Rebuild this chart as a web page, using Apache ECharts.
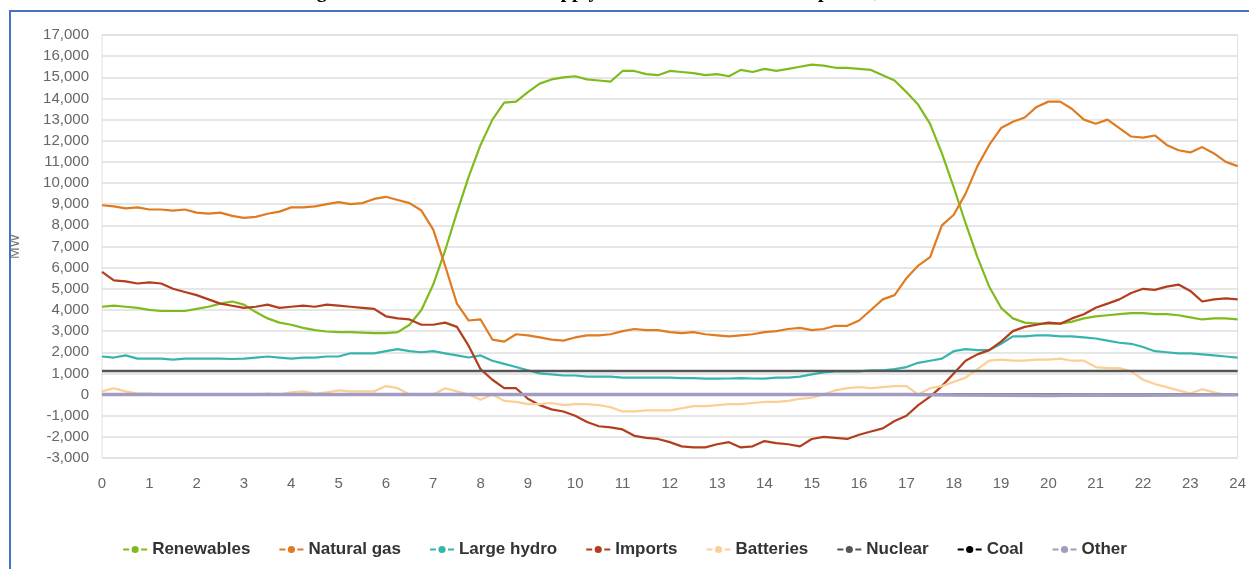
<!DOCTYPE html>
<html>
<head>
<meta charset="utf-8">
<script src="https://cdn.jsdelivr.net/npm/echarts@6/dist/echarts.min.js"></script>
<style>
  html, body { margin: 0; padding: 0; background: #fff; overflow: hidden; }
  #chart { position: absolute; left: 0; top: 0; width: 1249px; height: 569px; }
  /* blue frame around the chart, as in the source document */
  #frame { position: absolute; left: 9px; top: 10px; width: 1300px; height: 600px;
           border: 2px solid #4472c4; pointer-events: none; }
</style>
</head>
<body>
<div id="chart"></div>
<div id="frame"></div>
<script>
// hours of the day, 15 minute steps
const HOURS = [
  0, 0.25, 0.5, 0.75, 1, 1.25, 1.5, 1.75, 2, 2.25, 2.5, 2.75, 3, 3.25, 3.5, 3.75,
  4, 4.25, 4.5, 4.75, 5, 5.25, 5.5, 5.75, 6, 6.25, 6.5, 6.75, 7, 7.25, 7.5, 7.75,
  8, 8.25, 8.5, 8.75, 9, 9.25, 9.5, 9.75, 10, 10.25, 10.5, 10.75, 11, 11.25, 11.5, 11.75,
  12, 12.25, 12.5, 12.75, 13, 13.25, 13.5, 13.75, 14, 14.25, 14.5, 14.75, 15, 15.25, 15.5, 15.75,
  16, 16.25, 16.5, 16.75, 17, 17.25, 17.5, 17.75, 18, 18.25, 18.5, 18.75, 19, 19.25, 19.5, 19.75,
  20, 20.25, 20.5, 20.75, 21, 21.25, 21.5, 21.75, 22, 22.25, 22.5, 22.75, 23, 23.25, 23.5, 23.75, 24
]
// hourly points for the flat series
const HOURS_FLAT = [0, 1, 2, 3, 4, 5, 6, 7, 8, 9, 10, 11, 12, 13, 14, 15, 16, 17, 18, 19, 20, 21, 22, 23, 24]

const renewables = [
  4150, 4200, 4150, 4100, 4000, 3950, 3950, 3950, 4050, 4150, 4300, 4400, 4250, 3900, 3600, 3400,
  3300, 3150, 3050, 2980, 2950, 2950, 2930, 2900, 2900, 2950, 3300, 4000, 5200, 6800, 8600, 10300,
  11800, 13000, 13800, 13850, 14300, 14700, 14900, 15000, 15050, 14900, 14850, 14800, 15300, 15300, 15150, 15100,
  15300, 15250, 15200, 15100, 15150, 15050, 15350, 15250, 15400, 15300, 15400, 15500, 15600, 15550, 15450, 15450,
  15400, 15350, 15100, 14850, 14300, 13700, 12800, 11400, 9800, 8100, 6500, 5100, 4100, 3600, 3400, 3350,
  3350, 3350, 3450, 3600, 3700, 3750, 3800, 3850, 3850, 3800, 3800, 3750, 3650, 3550, 3600, 3600, 3550
]
const naturalGas = [
  8950, 8900, 8800, 8850, 8750, 8750, 8700, 8750, 8600, 8550, 8600, 8450, 8350, 8400, 8550, 8650,
  8850, 8850, 8900, 9000, 9100, 9000, 9050, 9250, 9350, 9200, 9050, 8700, 7800, 6100, 4300, 3500,
  3550, 2600, 2500, 2850, 2800, 2700, 2600, 2550, 2700, 2800, 2800, 2850, 3000, 3100, 3050, 3050,
  2950, 2900, 2950, 2850, 2800, 2750, 2800, 2850, 2950, 3000, 3100, 3150, 3050, 3100, 3250, 3250,
  3500, 4000, 4500, 4700, 5500, 6100, 6500, 8000, 8500, 9500, 10800, 11800, 12600, 12900, 13100, 13600,
  13850, 13850, 13500, 13000, 12800, 13000, 12600, 12200, 12150, 12250, 11800, 11550, 11450, 11700, 11400, 11000, 10800
]
const largeHydro = [
  1800, 1750, 1850, 1700, 1700, 1700, 1650, 1700, 1700, 1700, 1700, 1680, 1700, 1750, 1800, 1750,
  1700, 1750, 1750, 1800, 1800, 1950, 1950, 1950, 2050, 2150, 2050, 2000, 2050, 1950, 1850, 1750,
  1850, 1600, 1450, 1300, 1150, 1000, 950, 900, 900, 850, 850, 850, 800, 800, 800, 800,
  800, 780, 780, 750, 750, 760, 780, 760, 750, 800, 800, 850, 950, 1050, 1100, 1100,
  1100, 1150, 1150, 1200, 1300, 1500, 1600, 1700, 2050, 2150, 2100, 2100, 2400, 2750, 2750, 2800,
  2800, 2750, 2750, 2700, 2650, 2550, 2450, 2400, 2250, 2050, 2000, 1950, 1950, 1900, 1850, 1800, 1750
]
const imports = [
  5800, 5400, 5350, 5250, 5300, 5250, 5000, 4850, 4700, 4500, 4300, 4200, 4100, 4150, 4250, 4100,
  4150, 4200, 4150, 4250, 4200, 4150, 4100, 4050, 3700, 3600, 3550, 3300, 3300, 3400, 3200, 2300,
  1200, 700, 300, 300, -200, -500, -700, -800, -1000, -1300, -1500, -1550, -1650, -1950, -2050, -2100,
  -2250, -2450, -2500, -2500, -2350, -2250, -2500, -2450, -2200, -2300, -2350, -2450, -2100, -2000, -2050, -2100,
  -1900, -1750, -1600, -1250, -1000, -500, -100, 400, 1000, 1600, 1900, 2100, 2500, 3000, 3200, 3300,
  3400, 3350, 3600, 3800, 4100, 4300, 4500, 4800, 5000, 4950, 5100, 5200, 4900, 4400, 4500, 4550, 4500
]
const batteries = [
  150, 300, 150, 50, 50, 0, 0, 0, 0, 0, 0, 0, 0, 0, 50, 0,
  100, 150, 50, 100, 200, 150, 150, 150, 400, 300, 0, 0, 0, 300, 150, 0,
  -250, 0, -300, -350, -450, -450, -400, -500, -450, -450, -500, -600, -800, -800, -750, -750,
  -750, -650, -550, -550, -500, -450, -450, -400, -350, -350, -300, -200, -150, 0, 200, 300,
  350, 300, 350, 400, 400, 0, 300, 400, 600, 800, 1200, 1600, 1650, 1600, 1600, 1650,
  1650, 1700, 1600, 1600, 1300, 1250, 1250, 1100, 700, 500, 350, 200, 50, 250, 100, 0, 0
]
const nuclear = [1110, 1110, 1110, 1110, 1110, 1110, 1110, 1110, 1110, 1110, 1110, 1110, 1110,
  1110, 1110, 1110, 1110, 1110, 1110, 1110, 1110, 1110, 1110, 1110, 1110]
const coal = [0, 0, 0, 0, 0, 0, 0, 0, 0, 0, 0, 0, 0, 0, 0, 0, 0, 0, 0, 0, 0, 0, 0, 0, 0]
const other = [0, 0, 0, 0, 0, 0, 0, 0, 0, 0, 0, 0, 0, 0, 0, 0, 0, 0, -20, -30, -40, -20, -30, -20, -10]

const TITLE = 'Figure 4: California electric supply resources mix trend on April 16, 2023'

const pairs = (xs, ys) => xs.map((x, i) => [x, ys[i]])

const chart = echarts.init(document.getElementById('chart'))

function lineSeries(name, xs, ys, color, width) {
  return {
    name: name,
    type: 'line',
    data: pairs(xs, ys),
    showSymbol: false,
    symbol: 'circle',
    symbolSize: 8,
    itemStyle: { color: color },
    lineStyle: { color: color, width: width },
    emphasis: { disabled: true }
  }
}

const option = {
  animation: false,
  title: {
    text: TITLE,
    left: 294,
    top: -23,
    textStyle: { fontFamily: 'Liberation Serif', fontWeight: 'bold', fontSize: 20, color: '#000' }
  },
  grid: {
    left: 101, right: 8, top: 35, bottom: 111,
    show: true, borderColor: '#e0e0e0', borderWidth: 1
  },
  legend: {
    bottom: 6,
    left: 'center',
    itemWidth: 24,
    itemHeight: 9,
    itemGap: 28,
    lineStyle: { type: [6, 12], width: 2 },
    textStyle: { fontFamily: 'Liberation Sans', fontWeight: 'bold', fontSize: 17, color: '#333' }
  },
  xAxis: {
    type: 'value',
    min: 0, max: 24, interval: 1,
    axisLine: { show: false },
    axisTick: { show: false },
    splitLine: { show: false },
    axisLabel: {
      margin: 18,
      fontFamily: "'Liberation Sans Narrow', 'Arial Narrow', 'Liberation Sans'",
      fontSize: 15, color: '#666'
    }
  },
  yAxis: {
    type: 'value',
    min: -3000, max: 17000, interval: 1000,
    name: 'MW',
    nameLocation: 'middle',
    nameGap: 80,
    nameTextStyle: { fontFamily: 'Liberation Sans', fontSize: 14, color: '#777' },
    axisLine: { show: false },
    axisTick: { show: false },
    splitLine: { lineStyle: { color: '#dedede', width: 1.5 } },
    axisLabel: {
      margin: 13,
      fontFamily: 'Liberation Sans', fontSize: 15, color: '#666',
      formatter: v => v.toLocaleString('en-US')
    }
  },
  series: [
    lineSeries('Renewables', HOURS, renewables, '#80bb1d', 2.2),
    lineSeries('Natural gas', HOURS, naturalGas, '#e07b22', 2.2),
    lineSeries('Large hydro', HOURS, largeHydro, '#37b5ad', 2.2),
    lineSeries('Imports', HOURS, imports, '#b23e1e', 2.2),
    lineSeries('Batteries', HOURS, batteries, '#fbcf95', 2.2),
    lineSeries('Nuclear', HOURS_FLAT, nuclear, '#555555', 2.5),
    lineSeries('Coal', HOURS_FLAT, coal, '#000000', 2),
    lineSeries('Other', HOURS_FLAT, other, '#a39cc2', 3.5)
  ]
}

chart.setOption(option)
</script>
</body>
</html>
